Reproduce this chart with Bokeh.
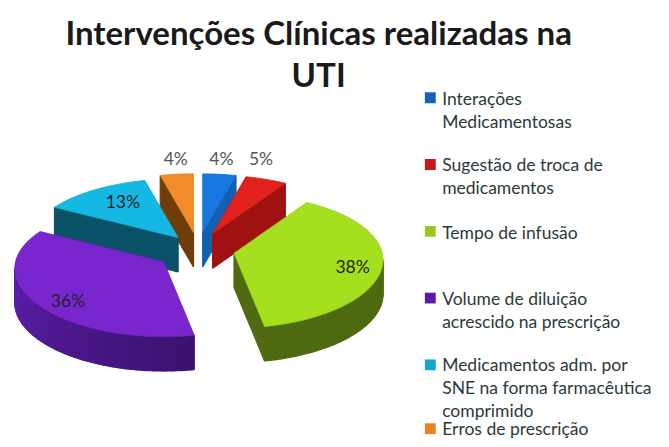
import numpy as np
from bokeh.plotting import figure
from bokeh.models import Range1d
from bokeh.core.properties import value
from bokeh.embed import file_html
from bokeh.resources import INLINE

title_lines = ["Intervenções Clínicas realizadas na", "UTI"]
categories = ["Interações\nMedicamentosas", "Sugestão de troca de\nmedicamentos", "Tempo de infusão",
              "Volume de diluição\nacrescido na prescrição",
              "Medicamentos adm. por\nSNE na forma farmacêutica\ncomprimido", "Erros de prescrição"]
values = [4, 5, 38, 36, 13, 4]
labels = ["4%", "5%", "38%", "36%", "13%", "4%"]
top_colors = ["#1878E0", "#E2201C", "#A5E01E", "#7A26CF", "#15B8E2", "#F28C28"]
side_colors = ["#1260B0", "#A01212", "#4F6A10", "#4A1888", "#0B5168", "#6E3D0A"]
legend_colors = ["#1560B8", "#C81818", "#98C81C", "#5A1CA8", "#12A8D0", "#EE8020"]
explode = [37, 37, 37, 43, 33, 37]
legend_y = [99, 167, 235, 303, 371, 436]
text_y = [[100, 123], [167, 190], [236], [303, 327], [371, 394, 417], [436]]
label_dx = [19, 49, 120, -97, -56, -18]
label_dy = [-75, -77, 14, 39, -37, -75]
label_colors = ["#555555", "#555555", "#222222", "#222222", "#222222", "#555555"]
draw_order = [5, 0, 1, 4, 3, 2]

CX, CY, FLAT = 200, 254, 0.48
A, B, KX, KY, DEPTH = 150, 68, 0.10, 0.12, 35


def hexmix(color, f):
    c = [int(color[i:i + 2], 16) for i in (1, 3, 5)]
    return "#%02x%02x%02x" % tuple(int(min(255, v * f)) for v in c)


p = figure(width=661, height=439, output_backend="svg", toolbar_location=None,
           x_range=Range1d(0, 669), y_range=Range1d(447, 0), min_border=0)
p.axis.visible = False
p.grid.visible = False
p.outline_line_color = None
p.background_fill_color = "white"

total = sum(values)
edges = np.cumsum([0] + values) / total * 2 * np.pi
apex = []
for i in range(len(values)):
    mid = (edges[i] + edges[i + 1]) / 2
    apex.append((CX + explode[i] * np.sin(mid), CY - explode[i] * FLAT * np.cos(mid)))

for i in draw_order:
    ax, ay = apex[i]
    n = max(4, int(values[i] * 3))
    t = np.linspace(edges[i], edges[i + 1], n)
    rx = ax + A * np.sin(t) * (1 - KX * np.cos(t))
    ry = ay - B * np.cos(t) * (1 - KY * np.cos(t))
    px = np.r_[ax, rx]
    py = np.r_[ay, ry]
    qx, qy, cols = [], [], []
    m = len(px)
    for j in range(m):
        k = (j + 1) % m
        if px[k] - px[j] < -1e-6:
            qx.append([px[j], px[k], px[k], px[j]])
            qy.append([py[j], py[k], py[k] + DEPTH, py[j] + DEPTH])
            if i == 3 and 1 <= j < m - 1:
                frac = (t[j - 1] - edges[i]) / (edges[i + 1] - edges[i])
                cols.append(hexmix(side_colors[i], 0.8 + 0.65 * frac))
            else:
                cols.append(side_colors[i])
    if qx:
        p.patches(qx, qy, fill_color=cols, line_color=cols, line_width=1.2)
    p.patch(px, py, fill_color=top_colors[i], line_color=hexmix(top_colors[i], 0.92), line_width=0.8)

p.text([apex[i][0] + label_dx[i] for i in range(6)], [apex[i][1] + label_dy[i] for i in range(6)],
       text=labels, text_font=value("Lato"), text_font_size="17.5px",
       text_color=label_colors, text_align="center", text_baseline="middle")

p.text([322, 322], [32, 75], text=title_lines, text_font=value("Lato"), text_font_style="bold",
       text_font_size="33px", text_color="#1a1a1a", text_align="center", text_baseline="middle")

p.rect([435] * 6, legend_y, width=11, height=11, fill_color=legend_colors, line_color=None)
tx, ty, tt = [], [], []
for cat, ys in zip(categories, text_y):
    for line, y in zip(cat.split("\n"), ys):
        tx.append(447)
        ty.append(y)
        tt.append(line)
p.text(tx, ty, text=tt, text_font=value("Lato"), text_font_size="17.5px", text_color="#2a3a3a",
       text_align="left", text_baseline="middle")

open("out.html", "w").write(file_html(p, INLINE))
